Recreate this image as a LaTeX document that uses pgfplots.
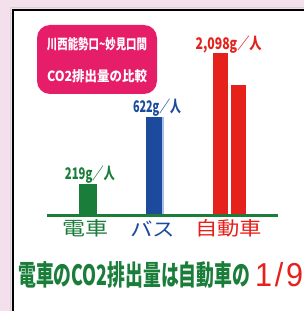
\documentclass[border=0pt]{standalone}
\usepackage{pgfplots}
\pgfplotsset{compat=1.18}
\usepackage{fontspec}
\setmainfont{Liberation Sans}
\newfontfamily\jp{Noto Sans CJK JP}
\definecolor{pinkbg}{HTML}{F3E0EC}
\definecolor{magbox}{HTML}{E61E6A}
\definecolor{cred}{HTML}{E6201A}
\definecolor{cblue}{HTML}{1C4A9C}
\definecolor{lblue}{HTML}{A8C0E8}
\definecolor{cgreen}{HTML}{1A7D3A}
\begin{document}
\begin{tikzpicture}[x=1pt,y=1pt]
\fill[pinkbg] (0,0) rectangle (304,311);
\fill[white] (12.5,-5) rectangle (320,301);
\draw[gray!35, line width=1pt] (10.2,-5) -- (10.2,303.2) -- (320,303.2);
\draw[black, line width=2pt] (12.5,-5) -- (12.5,301) -- (320,301);
\fill[magbox, rounded corners=13pt] (37,217) rectangle (157,286);
\node[white, inner sep=0pt] at (97,266.5) {\jp\bfseries\fontsize{14}{16}\selectfont\resizebox{100pt}{\height}{川西能勢口\textasciitilde 妙見口間}};
\node[white, inner sep=0pt] at (97,234.5) {\jp\bfseries\fontsize{14}{16}\selectfont\resizebox{100pt}{\height}{CO2排出量の比較}};
\begin{axis}[at={(0pt,95.3pt)}, anchor=origin, x=1pt, y=1pt,
  xmin=0, xmax=304, ymin=-95.3, ymax=215.7, hide axis, clip=false]
\addplot[ybar, fill=cgreen, draw=none, bar shift=0pt, bar width=17.4pt] coordinates {(88,31.7)};
\addplot[ybar, fill=lblue, draw=none, bar shift=0pt, bar width=18.3pt] coordinates {(154.85,99)};
\addplot[ybar, fill=cblue, draw=none, bar shift=0pt, bar width=16.6pt] coordinates {(154,99)};
\addplot[ybar, fill=cred, draw=none, bar shift=0pt, bar width=15.6pt] coordinates {(220.5,163)};
\addplot[ybar, fill=cred, draw=none, bar shift=0pt, bar width=15pt] coordinates {(238.5,130.4)};
\addplot[cgreen, line width=2.5pt, sharp plot, mark=none] coordinates {(47,0) (278,0)};
\end{axis}
\node[cgreen, inner sep=0pt] at (90,136) {\jp\bfseries\fontsize{16}{18}\selectfont\resizebox{50pt}{\height}{219g／人}};
\node[cblue, inner sep=0pt] at (157,203) {\jp\bfseries\fontsize{16}{18}\selectfont\resizebox{48pt}{\height}{622g／人}};
\node[cred, inner sep=0pt] at (228.7,266) {\jp\bfseries\fontsize{16}{18}\selectfont\resizebox{66pt}{\height}{2,098g／人}};
\node[cgreen, inner sep=0pt] at (85,82.5) {\jp\fontsize{19}{21}\selectfont\resizebox{46pt}{\height}{電車}};
\node[cblue, inner sep=0pt] at (152.5,82.5) {\jp\fontsize{19}{21}\selectfont\resizebox{45pt}{\height}{バス}};
\node[cred, inner sep=0pt] at (228.5,82.5) {\jp\fontsize{19}{21}\selectfont\resizebox{67pt}{\height}{自動車}};
\node[cgreen, inner sep=0pt, anchor=west] at (18,36) {\jp\bfseries\fontsize{28}{30}\selectfont\resizebox{232pt}{\height}{電車のCO2排出量は自動車の}};
\node[cred, inner sep=0pt, anchor=base west] at (255,24) {\fontsize{33}{36}\selectfont\resizebox{48pt}{24pt}{1\hspace{3pt}/\hspace{3pt}9}};
\pgfresetboundingbox
\useasboundingbox (0,0) rectangle (304,311);
\end{tikzpicture}
\end{document}
